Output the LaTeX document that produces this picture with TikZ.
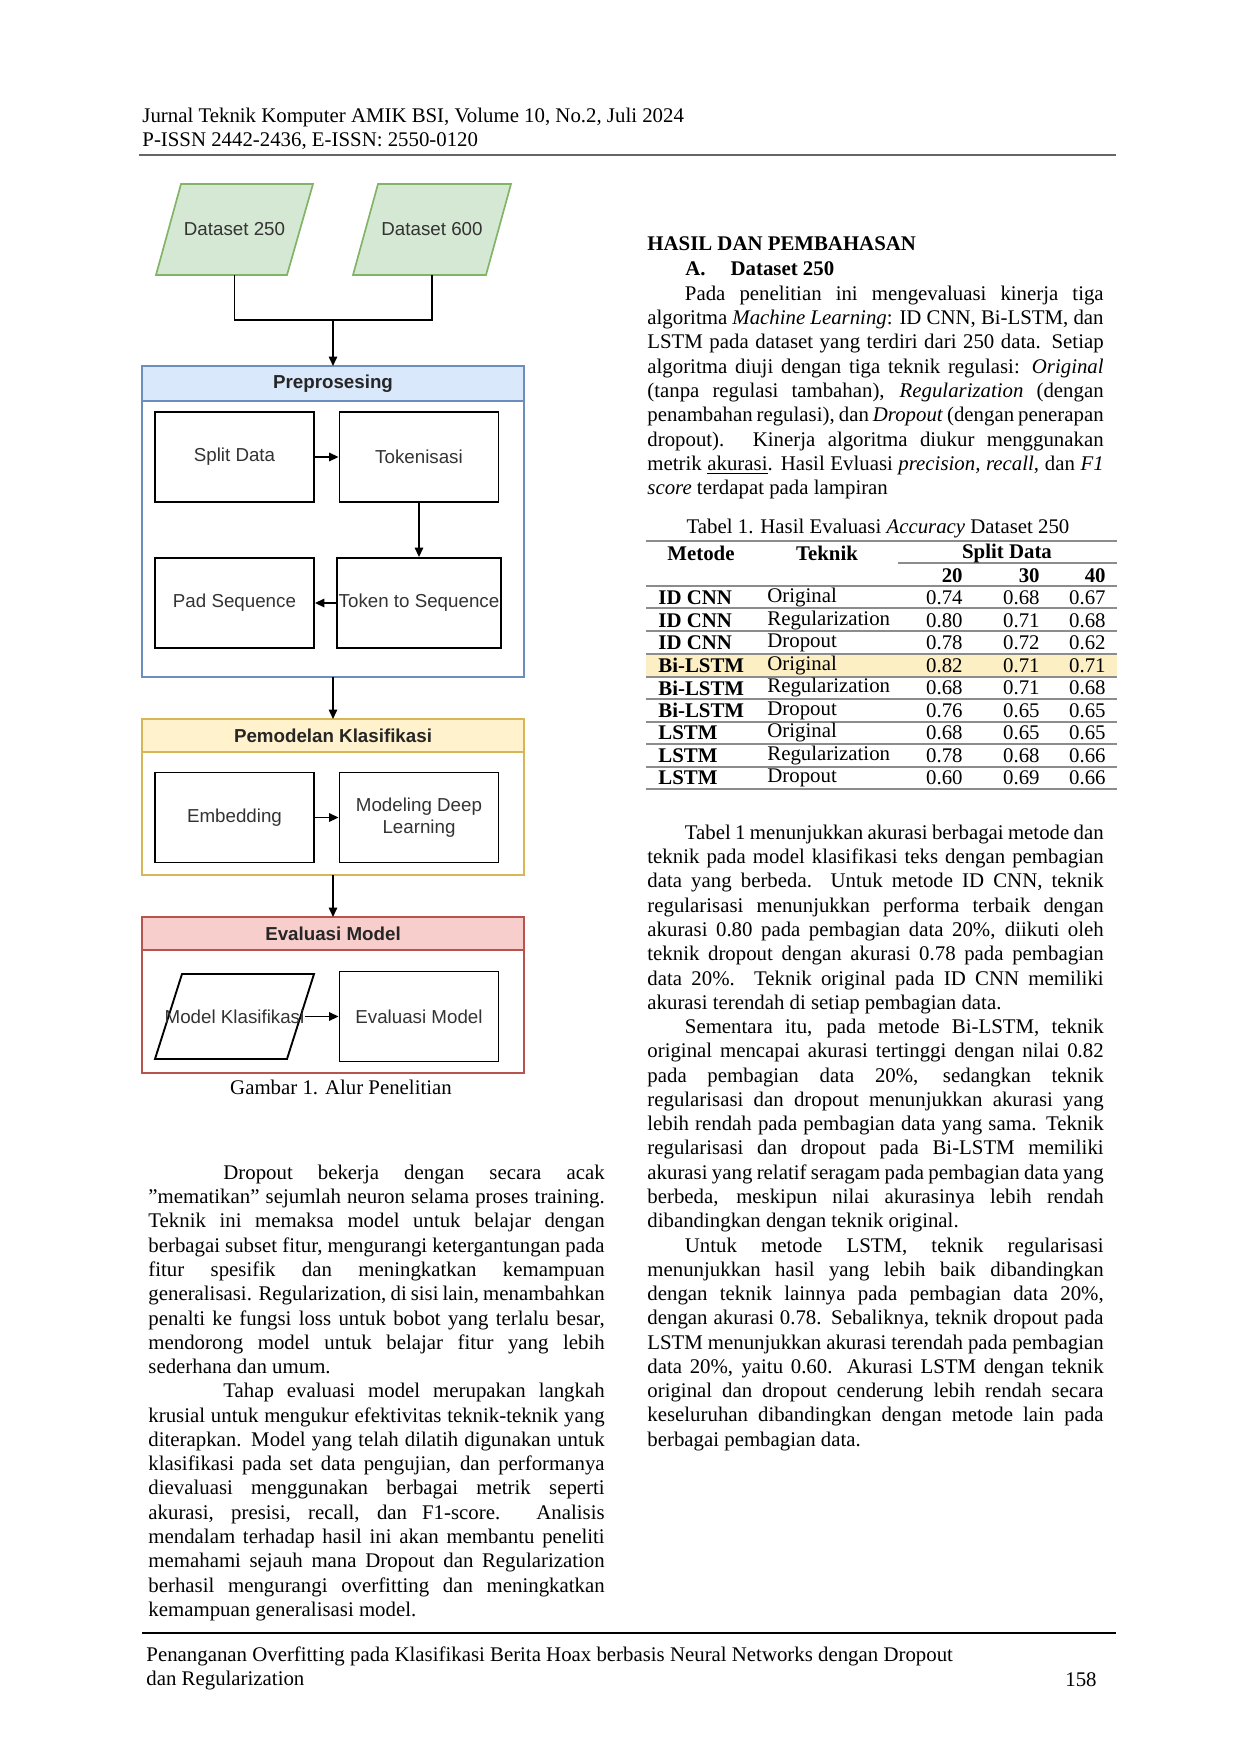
\documentclass[tikz,border=0pt]{standalone}
\usepackage{fontspec}
\setmainfont{Liberation Serif}
\newfontfamily\diafont{Liberation Sans}
\usetikzlibrary{arrows.meta}
\definecolor{dtext}{HTML}{333333}
\definecolor{gfill}{HTML}{D5E8D4}\definecolor{gline}{HTML}{82B366}
\definecolor{bfill}{HTML}{DAE8FC}\definecolor{bline}{HTML}{6C8EBF}
\definecolor{yfill}{HTML}{FFF2CC}\definecolor{yline}{HTML}{D6B656}
\definecolor{rfill}{HTML}{F8CECC}\definecolor{rline}{HTML}{B85450}
\definecolor{hl}{HTML}{FCEFC4}
\begin{document}
\begin{tikzpicture}[x=0.48pt,y=-0.48pt,
  box/.style={draw=black,line width=0.9pt,minimum width=76.3pt,minimum height=43.2pt,inner sep=1pt,font=\diafont\fontsize{9}{10.5}\selectfont,text=dtext,align=center},
  plain/.style={minimum width=63pt,minimum height=43.2pt,inner sep=0pt,font=\diafont\fontsize{9}{10.5}\selectfont,text=dtext,align=center},
  hdr/.style={font=\diafont\bfseries\fontsize{9}{10.5}\selectfont,text=black!85},
  arr/.style={-{Triangle[length=4.5pt,width=4pt]},line width=0.8pt},
  ln/.style={line width=0.6pt},
  para/.style={anchor=north west,inner sep=0pt,text width=219pt,align=justify,font=\fontsize{10}{11.65}\selectfont},
  body/.style={inner sep=0pt,font=\fontsize{10}{12}\selectfont},
  tline/.style={draw=black!45,line width=0.8pt}]
\useasboundingbox (0,0) rectangle (1240,1754);
\fill[white] (0,0) rectangle (1240,1754);
% header
\node[body,anchor=west] (h1) at (142,117) {Jurnal Teknik Komputer AMIK BSI, Volume 10, No.2, Juli 2024};
\node[body,anchor=west] (h2) at (142,141) {P-ISSN 2442-2436, E-ISSN: 2550-0120};
\draw[black!60,line width=1pt] (139,155) -- (1116,155);
% datasets
\draw[gline,fill=gfill,line width=0.8pt] (181,184) -- (313,184) -- (287,275) -- (156,275) -- cycle;
\draw[gline,fill=gfill,line width=0.8pt] (378,184) -- (511,184) -- (486,275) -- (353,275) -- cycle;
\node[plain,minimum height=43.7pt] (d250) at (234.5,229.5) {Dataset 250};
\node[plain,minimum height=43.7pt] (d600) at (432,229.5) {Dataset 600};
\coordinate (j) at (333,320);
% containers
\draw[bline,fill=white,line width=0.8pt] (142,366) rectangle (524,677);
\draw[bline,fill=bfill,line width=0.8pt] (142,366) rectangle (524,401);
\node[hdr] (pre) at (333,383.5) {Preprosesing};
\coordinate (pretop) at (333,366); \coordinate (prebot) at (333,677);
\draw[yline,fill=white,line width=0.8pt] (142,719) rectangle (524,875);
\draw[yline,fill=yfill,line width=0.8pt] (142,719) rectangle (524,752);
\node[hdr] (pem) at (333,735.5) {Pemodelan Klasifikasi};
\coordinate (pemtop) at (333,719); \coordinate (pembot) at (333,875);
\draw[rline,fill=white,line width=0.8pt] (142,917) rectangle (524,1073);
\draw[rline,fill=rfill,line width=0.8pt] (142,917) rectangle (524,950);
\node[hdr] (ev) at (333,933.5) {Evaluasi Model};
\coordinate (evtop) at (333,917);
% boxes
\node[box] (split) at (234.5,457) {Split Data};
\node[box] (tok) at (419,457) {Tokenisasi};
\node[box] (pad) at (234.5,603) {Pad Sequence};
\node[box] (tts) at (419,603) {Token to Sequence};
\node[box] (emb) at (234.5,817.5) {Embedding};
\node[box] (mdl) at (419,817.5) {Modeling Deep\\Learning};
\draw[black,line width=0.9pt] (182,974) -- (314,974) -- (287,1059) -- (155,1059) -- cycle;
\node[plain] (mk) at (234.5,1016.5) {Model Klasifikasi};
\node[box] (evm) at (419,1016.5) {Evaluasi Model};
% connectors
\draw[ln] (d250.south) |- (j) -| (d600.south);
\draw[arr] (j) -- (pretop);
\draw[arr] (split) -- (tok);
\draw[arr] (tok) -- (tts);
\draw[arr] (tts) -- (pad);
\draw[arr] (prebot) -- (pemtop);
\draw[arr] (emb) -- (mdl);
\draw[arr] (pembot) -- (evtop);
\draw[arr] (mk) -- (evm);
\node[body] (cap) at (341,1087) {Gambar 1. Alur Penelitian};
% left text
\node[para] (lt) at (148,1162) {\strut\hspace*{36pt}Dropout bekerja dengan secara acak\linebreak
"mematikan" sejumlah neuron selama proses training.\linebreak
Teknik ini memaksa model untuk belajar dengan\linebreak
berbagai subset fitur, mengurangi ketergantungan pada\linebreak
fitur spesifik dan meningkatkan kemampuan\linebreak
generalisasi. Regularization, di sisi lain, menambahkan\linebreak
penalti ke fungsi loss untuk bobot yang terlalu besar,\linebreak
mendorong model untuk belajar fitur yang lebih\linebreak
sederhana dan umum.\par
\hspace*{36pt}Tahap evaluasi model merupakan langkah\linebreak
krusial untuk mengukur efektivitas teknik-teknik yang\linebreak
diterapkan. Model yang telah dilatih digunakan untuk\linebreak
klasifikasi pada set data pengujian, dan performanya\linebreak
dievaluasi menggunakan berbagai metrik seperti\linebreak
akurasi, presisi, recall, dan F1-score. Analisis\linebreak
mendalam terhadap hasil ini akan membantu peneliti\linebreak
memahami sejauh mana Dropout dan Regularization\linebreak
berhasil mengurangi overfitting dan meningkatkan\linebreak
kemampuan generalisasi model.};
% right column
\node[body,anchor=west,font=\bfseries\fontsize{10}{12}\selectfont] (sec) at (647,244) {HASIL DAN PEMBAHASAN};
\node[body,anchor=west,font=\bfseries\fontsize{10}{12}\selectfont] (sub) at (685,269) {A.\hspace{12pt}Dataset 250};
\node[para] (rt1) at (647,283) {\strut\hspace*{18pt}Pada penelitian ini mengevaluasi kinerja tiga\linebreak
algoritma \textit{Machine Learning}: ID CNN, Bi-LSTM, dan\linebreak
LSTM pada dataset yang terdiri dari 250 data. Setiap\linebreak
algoritma diuji dengan tiga teknik regulasi: \textit{Original}\linebreak
(tanpa regulasi tambahan), \textit{Regularization} (dengan\linebreak
penambahan regulasi), dan \textit{Dropout} (dengan penerapan\linebreak
dropout). Kinerja algoritma diukur menggunakan\linebreak
metrik \underline{akurasi}. Hasil Evluasi \textit{precision, recall}, dan \textit{F1}\linebreak
\textit{score} terdapat pada lampiran};
% table
\node[body] (tcap) at (878,529) {Tabel 1. Hasil Evaluasi \textit{Accuracy} Dataset 250};
\fill[hl] (646,654) rectangle (1117,677);
\draw[tline] (646,541) -- (1117,541);
\draw[tline] (898,563) -- (1117,563);
\foreach \yy in {586,608,631,654,677,699,722,744,767,789} \draw[tline] (646,\yy) -- (1117,\yy);
\node[body,font=\bfseries\fontsize{10}{12}\selectfont] (th1) at (701,553) {Metode};
\node[body,font=\bfseries\fontsize{10}{12}\selectfont] (th2) at (827,553) {Teknik};
\node[body,font=\bfseries\fontsize{10}{12}\selectfont] (th3) at (1007,553) {Split Data};
\node[body,anchor=east,font=\bfseries\fontsize{10}{12}\selectfont] (c20) at (963,576) {20};
\node[body,anchor=east,font=\bfseries\fontsize{10}{12}\selectfont] (c30) at (1040,576) {30};
\node[body,anchor=east,font=\bfseries\fontsize{10}{12}\selectfont] (c40) at (1106,576) {40};
\foreach \m/\t/\a/\b/\c [count=\i from 0] in {ID CNN/Original/0.74/0.68/0.67,ID CNN/Regularization/0.80/0.71/0.68,ID CNN/Dropout/0.78/0.72/0.62,Bi-LSTM/Original/0.82/0.71/0.71,Bi-LSTM/Regularization/0.68/0.71/0.68,Bi-LSTM/Dropout/0.76/0.65/0.65,LSTM/Original/0.68/0.65/0.65,LSTM/Regularization/0.78/0.68/0.66,LSTM/Dropout/0.60/0.69/0.66}{
  \pgfmathsetmacro{\yr}{598+22.5*\i}
  \node[body,anchor=west,font=\bfseries\fontsize{10}{12}\selectfont] (m\i) at (658,\yr) {\m};
  \node[body,anchor=west] (t\i) at (767,\yr) {\t};
  \node[body,anchor=east] (a\i) at (963,\yr) {\a};
  \node[body,anchor=east] (b\i) at (1040,\yr) {\b};
  \node[body,anchor=east] (c\i) at (1106,\yr) {\c};
}
\node[para] (rt2) at (647,822) {\strut\hspace*{18pt}Tabel 1 menunjukkan akurasi berbagai metode dan\linebreak
teknik pada model klasifikasi teks dengan pembagian\linebreak
data yang berbeda. Untuk metode ID CNN, teknik\linebreak
regularisasi menunjukkan performa terbaik dengan\linebreak
akurasi 0.80 pada pembagian data 20\%, diikuti oleh\linebreak
teknik dropout dengan akurasi 0.78 pada pembagian\linebreak
data 20\%. Teknik original pada ID CNN memiliki\linebreak
akurasi terendah di setiap pembagian data.\par
\hspace*{18pt}Sementara itu, pada metode Bi-LSTM, teknik\linebreak
original mencapai akurasi tertinggi dengan nilai 0.82\linebreak
pada pembagian data 20\%, sedangkan teknik\linebreak
regularisasi dan dropout menunjukkan akurasi yang\linebreak
lebih rendah pada pembagian data yang sama. Teknik\linebreak
regularisasi dan dropout pada Bi-LSTM memiliki\linebreak
akurasi yang relatif seragam pada pembagian data yang\linebreak
berbeda, meskipun nilai akurasinya lebih rendah\linebreak
dibandingkan dengan teknik original.\par
\hspace*{18pt}Untuk metode LSTM, teknik regularisasi\linebreak
menunjukkan hasil yang lebih baik dibandingkan\linebreak
dengan teknik lainnya pada pembagian data 20\%,\linebreak
dengan akurasi 0.78. Sebaliknya, teknik dropout pada\linebreak
LSTM menunjukkan akurasi terendah pada pembagian\linebreak
data 20\%, yaitu 0.60. Akurasi LSTM dengan teknik\linebreak
original dan dropout cenderung lebih rendah secara\linebreak
keseluruhan dibandingkan dengan metode lain pada\linebreak
berbagai pembagian data.};
% footer
\draw[black,line width=0.8pt] (142,1633) -- (1116,1633);
\node[body,anchor=west] (f1) at (146,1656) {Penanganan Overfitting pada Klasifikasi Berita Hoax berbasis Neural Networks dengan Dropout};
\node[body,anchor=west] (f2) at (146,1680) {dan Regularization};
\node[body,anchor=east] (pg) at (1097,1680) {158};
\end{tikzpicture}
\end{document}
